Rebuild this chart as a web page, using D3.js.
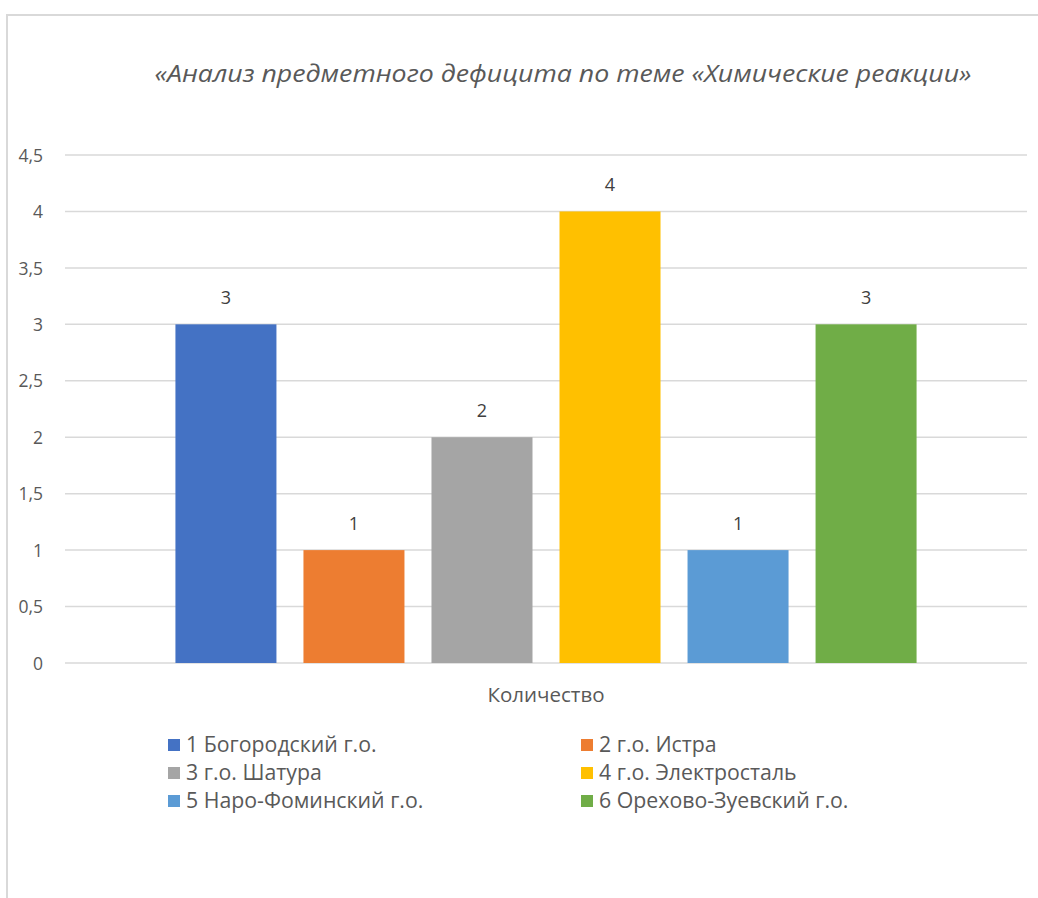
<!DOCTYPE html>
<html><head><meta charset="utf-8">
<script src="https://cdn.jsdelivr.net/npm/d3@7"></script>
<style>body{margin:0;background:#fff}svg{display:block}</style>
</head><body>
<script>
const title = "«Анализ предметного дефицита по теме «Химические реакции»";
const category = "Количество";
const seriesNames = ["1 Богородский г.о.","2 г.о. Истра","3 г.о. Шатура","4 г.о. Электросталь","5 Наро-Фоминский г.о.","6 Орехово-Зуевский г.о."];
const seriesValues = [3,1,2,4,1,3];
const seriesColors = ["#4472C4","#ED7D31","#A5A5A5","#FFC000","#5B9BD5","#70AD47"];
const yTicks = [0,0.5,1,1.5,2,2.5,3,3.5,4,4.5];

const W=1038,H=898;
const font = "'Open Sans', Lato, sans-serif";
const svg = d3.select("body").append("svg").attr("width",W).attr("height",H);

// frame
svg.append("line").attr("x1",7).attr("x2",W).attr("y1",15).attr("y2",15).attr("stroke","#d9d9d9").attr("stroke-width",2);
svg.append("line").attr("x1",7).attr("x2",7).attr("y1",14).attr("y2",H).attr("stroke","#d9d9d9").attr("stroke-width",2);

const plotL=65, plotR=1027, plotT=155, plotB=663;
const y = d3.scaleLinear().domain([0,4.5]).range([plotB,plotT]);
const x0 = d3.scaleBand().domain([category]).range([plotL,plotR]).paddingInner(0).paddingOuter(0.149);
const x1 = d3.scaleBand().domain(seriesNames).range([x0(category), x0(category)+x0.bandwidth()]).paddingInner(0.211).paddingOuter(0);

// gridlines
svg.append("g").selectAll("line").data(yTicks).join("line")
  .attr("x1",plotL).attr("x2",plotR).attr("y1",d=>y(d)).attr("y2",d=>y(d))
  .attr("stroke","#d9d9d9").attr("stroke-width",1.5);

// y axis labels
const fmt = d=>String(d).replace(".",",");
const yAxis = d3.axisLeft(y).tickValues(yTicks).tickFormat(fmt).tickSize(0).tickPadding(0);
const ya = svg.append("g").attr("transform","translate(43,0)").call(yAxis);
ya.select(".domain").remove();
ya.selectAll("text").attr("font-family",font).attr("font-size",17.5).attr("fill","#595959").attr("dy","0.35em");

// bars
svg.append("g").selectAll("rect").data(seriesNames).join("rect")
  .attr("x",d=>x1(d)).attr("width",x1.bandwidth())
  .attr("y",(d,i)=>y(seriesValues[i])).attr("height",(d,i)=>plotB-y(seriesValues[i]))
  .attr("fill",(d,i)=>seriesColors[i]);

// data labels
svg.append("g").selectAll("text").data(seriesNames).join("text")
  .attr("x",d=>x1(d)+x1.bandwidth()/2).attr("y",(d,i)=>y(seriesValues[i])-20)
  .attr("text-anchor","middle").attr("font-family",font).attr("font-size",18).attr("fill","#404040")
  .text((d,i)=>seriesValues[i]);

// x axis category label
const xAxis = d3.axisBottom(x0).tickSize(0).tickPadding(0);
const xa = svg.append("g").attr("transform",`translate(0,${plotB})`).call(xAxis);
xa.select(".domain").remove();
xa.selectAll("text").attr("font-family",font).attr("font-size",20.5).attr("fill","#595959").attr("dy",0).attr("y",39);

// title
svg.append("text").attr("x",563).attr("y",82).attr("text-anchor","middle")
  .attr("font-family",font).attr("font-style","italic").attr("font-size",23).attr("fill","#595959")
  .attr("textLength",817).attr("lengthAdjust","spacingAndGlyphs")
  .text(title);

// legend
const legCols=[168,581], legRows=[745,773,801];
const lg = svg.append("g").selectAll("g").data(seriesNames).join("g")
  .attr("transform",(d,i)=>`translate(${legCols[i%2]},${legRows[Math.floor(i/2)]})`);
lg.append("rect").attr("x",0).attr("y",-6).attr("width",12).attr("height",12).attr("fill",(d,i)=>seriesColors[i]);
lg.append("text").attr("x",18).attr("y",0).attr("dy","0.35em").attr("font-family",font).attr("font-size",21.3).attr("fill","#595959").text(d=>d);
</script>
</body></html>
